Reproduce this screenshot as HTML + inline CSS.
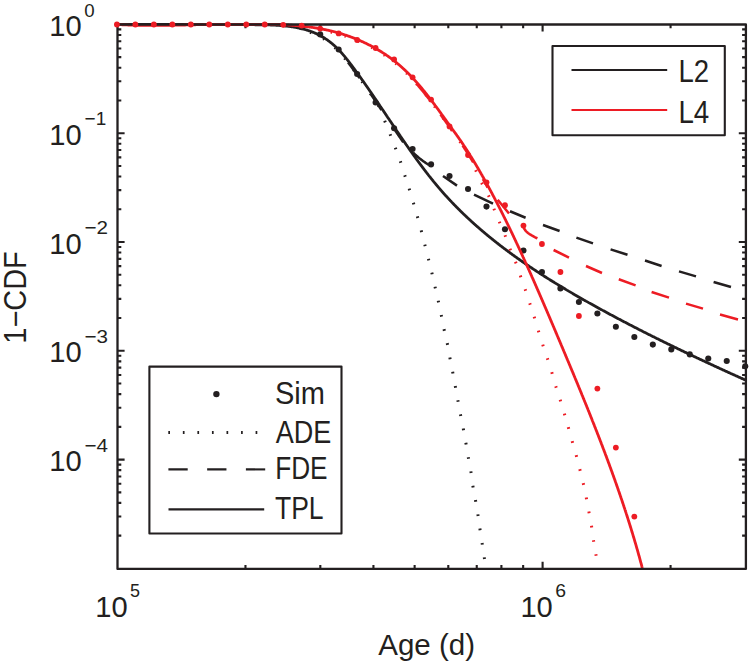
<!DOCTYPE html>
<html lang="en">
<head>
<meta charset="utf-8">
<title>1-CDF vs Age</title>
<style>
html,body{margin:0;padding:0;background:#fff;}
body{width:750px;height:665px;overflow:hidden;}
svg{display:block;}
</style>
</head>
<body>
<svg width="750" height="665" viewBox="0 0 750 665">
<rect width="750" height="665" fill="#fff"/>
<clipPath id="c"><rect x="113.5" y="20.5" width="636.4" height="548.4"/></clipPath>
<g clip-path="url(#c)" fill="none" stroke-linejoin="round">
<path d="M117.5 24.5 L118.01 24.5 L118.51 24.5 L119.02 24.5 L119.52 24.5 L120.02 24.5 L120.53 24.5 L121.03 24.5 L121.54 24.5 L122.04 24.5 L122.55 24.5 L123.05 24.5 L123.56 24.5 L124.06 24.5 L124.56 24.5 L125.07 24.5 L125.57 24.5 L126.07 24.5 L126.58 24.5 L127.08 24.5 L127.58 24.5 L128.09 24.5 L128.59 24.5 L129.09 24.5 L129.6 24.5 L130.1 24.5 L130.6 24.5 L131.11 24.5 L131.61 24.5 L132.11 24.5 L132.61 24.5 L133.12 24.5 L133.62 24.5 L134.12 24.5 L134.62 24.5 L135.13 24.5 L135.63 24.5 L136.13 24.5 L136.63 24.5 L137.13 24.5 L137.64 24.5 L138.14 24.5 L138.64 24.5 L139.14 24.5 L139.64 24.5 L140.14 24.5 L140.65 24.5 L141.15 24.5 L141.65 24.5 L142.15 24.5 L142.65 24.5 L143.15 24.5 L143.65 24.5 L144.15 24.5 L144.66 24.5 L145.16 24.5 L145.66 24.5 L146.16 24.5 L146.66 24.5 L147.16 24.5 L147.66 24.5 L148.16 24.5 L148.66 24.5 L149.16 24.5 L149.66 24.5 L150.16 24.5 L150.66 24.5 L151.16 24.5 L151.66 24.5 L152.16 24.5 L152.66 24.5 L153.16 24.5 L153.66 24.5 L154.16 24.5 L154.66 24.5 L155.16 24.5 L155.66 24.5 L156.16 24.5 L156.66 24.5 L157.16 24.5 L157.66 24.5 L158.16 24.5 L158.66 24.5 L159.16 24.5 L159.66 24.5 L160.16 24.5 L160.66 24.5 L161.16 24.5 L161.65 24.5 L162.15 24.5 L162.65 24.5 L163.15 24.5 L163.65 24.5 L164.15 24.5 L164.65 24.5 L165.15 24.5 L165.65 24.5 L166.15 24.5 L166.64 24.5 L167.14 24.5 L167.64 24.5 L168.14 24.5 L168.64 24.5 L169.14 24.5 L169.64 24.5 L170.14 24.5 L170.63 24.5 L171.13 24.5 L171.63 24.5 L172.13 24.5 L172.63 24.5 L173.13 24.5 L173.62 24.5 L174.12 24.5 L174.62 24.5 L175.12 24.5 L175.62 24.5 L176.12 24.5 L176.61 24.5 L177.11 24.5 L177.61 24.5 L178.11 24.5 L178.61 24.5 L179.1 24.5 L179.6 24.5 L180.1 24.5 L180.6 24.5 L181.1 24.5 L181.59 24.5 L182.09 24.5 L182.59 24.5 L183.09 24.5 L183.59 24.5 L184.08 24.5 L184.58 24.5 L185.08 24.5 L185.58 24.5 L186.08 24.5 L186.57 24.5 L187.07 24.5 L187.57 24.5 L188.07 24.5 L188.57 24.5 L189.06 24.5 L189.56 24.5 L190.06 24.5 L190.56 24.5 L191.05 24.5 L191.55 24.5 L192.05 24.5 L192.55 24.5 L193.05 24.5 L193.54 24.5 L194.04 24.5 L194.54 24.5 L195.04 24.5 L195.53 24.5 L196.03 24.5 L196.53 24.5 L197.03 24.5 L197.53 24.5 L198.02 24.5 L198.52 24.5 L199.02 24.5 L199.52 24.5 L200.01 24.5 L200.51 24.5 L201.01 24.5 L201.51 24.5 L202.01 24.5 L202.5 24.5 L203 24.51 L203.5 24.51 L204 24.51 L204.49 24.51 L204.99 24.52 L205.49 24.52 L205.99 24.52 L206.49 24.52 L206.98 24.53 L207.48 24.53 L207.98 24.53 L208.48 24.53 L208.98 24.54 L209.47 24.54 L209.97 24.54 L210.47 24.54 L210.97 24.55 L211.47 24.55 L211.96 24.55 L212.46 24.55 L212.96 24.56 L213.46 24.56 L213.96 24.56 L214.46 24.56 L214.95 24.57 L215.45 24.57 L215.95 24.57 L216.45 24.57 L216.95 24.58 L217.44 24.58 L217.94 24.58 L218.44 24.58 L218.94 24.59 L219.44 24.59 L219.94 24.59 L220.44 24.59 L220.93 24.59 L221.43 24.6 L221.93 24.6 L222.43 24.6 L222.93 24.6 L223.43 24.61 L223.93 24.61 L224.42 24.61 L224.92 24.61 L225.42 24.62 L225.92 24.62 L226.42 24.62 L226.92 24.62 L227.42 24.63 L227.92 24.63 L228.42 24.63 L228.92 24.63 L229.41 24.63 L229.91 24.64 L230.41 24.64 L230.91 24.64 L231.41 24.64 L231.91 24.65 L232.41 24.65 L232.91 24.65 L233.41 24.65 L233.91 24.65 L234.41 24.66 L234.91 24.66 L235.41 24.66 L235.91 24.66 L236.41 24.66 L236.91 24.67 L237.41 24.67 L237.91 24.67 L238.41 24.67 L238.91 24.67 L239.41 24.68 L239.91 24.68 L240.41 24.68 L240.91 24.68 L241.41 24.68 L241.91 24.68 L242.41 24.69 L242.91 24.69 L243.41 24.69 L243.91 24.69 L244.41 24.69 L244.91 24.69 L245.41 24.7 L245.91 24.7 L246.41 24.7 L246.92 24.7 L247.42 24.7 L247.92 24.7 L248.42 24.71 L248.92 24.71 L249.42 24.71 L249.92 24.71 L250.42 24.71 L250.93 24.71 L251.43 24.71 L251.93 24.71 L252.43 24.72 L252.93 24.72 L253.43 24.72 L253.94 24.72 L254.44 24.72 L254.94 24.73 L255.44 24.73 L255.94 24.73 L256.45 24.73 L256.95 24.74 L257.45 24.74 L257.95 24.74 L258.45 24.75 L258.96 24.75 L259.46 24.75 L259.96 24.76 L260.46 24.76 L260.97 24.77 L261.47 24.78 L261.97 24.78 L262.47 24.79 L262.97 24.8 L263.48 24.8 L263.98 24.81 L264.48 24.82 L264.98 24.83 L265.49 24.84 L265.99 24.85 L266.49 24.87 L266.99 24.88 L267.49 24.89 L268 24.9 L268.5 24.92 L269 24.93 L269.5 24.95 L270 24.97 L270.51 24.98 L271.01 25 L271.51 25.02 L272.01 25.04 L272.51 25.06 L273.02 25.09 L273.52 25.11 L274.02 25.13 L274.52 25.16 L275.02 25.18 L275.52 25.21 L276.03 25.24 L276.53 25.27 L277.03 25.3 L277.53 25.33 L278.03 25.36 L278.53 25.4 L279.03 25.43 L279.53 25.47 L280.03 25.51 L280.54 25.54 L281.04 25.58 L281.54 25.62 L282.04 25.67 L282.54 25.71 L283.04 25.76 L283.54 25.8 L284.04 25.85 L284.54 25.9 L285.04 25.95 L285.54 26 L286.04 26.06 L286.54 26.11 L287.04 26.17 L287.54 26.23 L288.03 26.29 L288.53 26.35 L289.03 26.41 L289.53 26.48 L290.03 26.54 L290.53 26.61 L291.03 26.68 L291.52 26.75 L292.02 26.83 L292.52 26.9 L293.02 26.98 L293.51 27.06 L294.01 27.14 L294.51 27.22 L295 27.31 L295.5 27.39 L295.99 27.48 L296.49 27.57 L296.98 27.67 L297.48 27.76 L297.97 27.86 L298.46 27.96 L298.96 28.06 L299.45 28.17 L299.94 28.27 L300.43 28.38 L300.92 28.49 L301.41 28.61 L301.89 28.72 L302.38 28.84 L302.87 28.97 L303.35 29.09 L303.84 29.22 L304.32 29.35 L304.8 29.48 L305.29 29.61 L305.77 29.75 L306.25 29.89 L306.73 30.04 L307.2 30.18 L307.68 30.33 L308.16 30.49 L308.63 30.64 L309.11 30.8 L309.58 30.96 L310.05 31.13 L310.52 31.3 L310.99 31.47 L311.45 31.64 L311.92 31.82 L312.38 32 L312.85 32.18 L313.31 32.37 L313.77 32.56 L314.23 32.75 L314.69 32.95 L315.14 33.15 L315.6 33.35 L316.05 33.56 L316.5 33.76 L316.95 33.98 L317.4 34.19 L317.85 34.41 L318.3 34.63 L318.74 34.85 L319.18 35.08 L319.62 35.31 L320.06 35.54 L320.5 35.78 L320.94 36.01 L321.37 36.26 L321.8 36.5 L322.23 36.75 L322.66 37 L323.09 37.25 L323.51 37.51 L323.93 37.77 L324.36 38.03 L324.78 38.29 L325.19 38.56 L325.61 38.83 L326.02 39.1 L326.43 39.38 L326.84 39.66 L327.25 39.94 L327.65 40.23 L328.06 40.52 L328.46 40.81 L328.86 41.1 L329.25 41.4 L329.65 41.69 L330.04 42 L330.43 42.3 L330.82 42.61 L331.21 42.92 L331.59 43.23 L331.97 43.55 L332.35 43.86 L332.73 44.18 L333.1 44.51 L333.48 44.83 L333.85 45.16 L334.22 45.49 L334.59 45.82 L334.95 46.16 L335.32 46.5 L335.68 46.84 L336.04 47.18 L336.4 47.52 L336.75 47.87 L337.11 48.22 L337.46 48.57 L337.81 48.92 L338.16 49.27 L338.51 49.63 L338.86 49.99 L339.2 50.35 L339.54 50.71 L339.89 51.08 L340.23 51.44 L340.57 51.81 L340.9 52.18 L341.24 52.55 L341.57 52.92 L341.91 53.29 L342.24 53.67 L342.57 54.05 L342.9 54.43 L343.22 54.81 L343.55 55.19 L343.88 55.57 L344.2 55.95 L344.52 56.34 L344.84 56.72 L345.17 57.11 L345.48 57.5 L345.8 57.89 L346.12 58.28 L346.44 58.67 L346.75 59.07 L347.07 59.46 L347.38 59.86 L347.69 60.25 L348 60.65 L348.31 61.05 L348.62 61.44 L348.93 61.84 L349.24 62.24 L349.55 62.64 L349.86 63.04 L350.16 63.45 L350.47 63.85 L350.77 64.25 L351.08 64.65 L351.38 65.06 L351.68 65.46 L351.99 65.87 L352.29 66.27 L352.59 66.67 L352.89 67.08 L353.19 67.49 L353.49 67.89 L353.79 68.3 L354.09 68.7 L354.39 69.11 L354.69 69.51 L354.98 69.92 L355.28 70.33 L355.58 70.73 L355.88 71.14 L356.17 71.55 L356.47 71.95 L356.76 72.36 L357.06 72.77 L357.35 73.17 L357.65 73.58 L357.94 73.99 L358.24 74.4 L358.53 74.8 L358.83 75.21 L359.12 75.62 L359.41 76.03 L359.7 76.43 L360 76.84 L360.29 77.25 L360.58 77.66 L360.87 78.07 L361.16 78.47 L361.45 78.88 L361.74 79.29 L362.03 79.7 L362.32 80.11 L362.61 80.52 L362.9 80.93 L363.19 81.34 L363.48 81.74 L363.77 82.15 L364.05 82.56 L364.34 82.97 L364.63 83.38 L364.92 83.79 L365.2 84.2 L365.49 84.61 L365.78 85.02 L366.06 85.43 L366.35 85.84 L366.63 86.25 L366.92 86.66 L367.2 87.07 L367.49 87.48 L367.77 87.89 L368.06 88.3 L368.34 88.71 L368.63 89.12 L368.91 89.53 L369.19 89.94 L369.48 90.36 L369.76 90.77 L370.04 91.18 L370.33 91.59 L370.61 92 L370.89 92.41 L371.17 92.82 L371.46 93.23 L371.74 93.64 L372.02 94.06 L372.3 94.47 L372.58 94.88 L372.86 95.29 L373.14 95.7 L373.43 96.11 L373.71 96.53 L373.99 96.94 L374.27 97.35 L374.55 97.76 L374.83 98.17 L375.11 98.59 L375.39 99 L375.67 99.41 L375.95 99.82 L376.23 100.24 L376.51 100.65 L376.78 101.06 L377.06 101.47 L377.34 101.89 L377.62 102.3 L377.9 102.71 L378.18 103.12 L378.46 103.54 L378.74 103.95 L379.01 104.36 L379.29 104.77 L379.57 105.19 L379.85 105.6 L380.13 106.01 L380.4 106.43 L380.68 106.84 L380.96 107.25 L381.24 107.67 L381.52 108.08 L381.79 108.49 L382.07 108.91 L382.35 109.32 L382.63 109.73 L382.9 110.15 L383.18 110.56 L383.46 110.97 L383.73 111.39 L384.01 111.8 L384.29 112.21 L384.57 112.63 L384.84 113.04 L385.12 113.45 L385.4 113.87 L385.68 114.28 L385.95 114.69 L386.23 115.11 L386.51 115.52 L386.78 115.94 L387.06 116.35 L387.34 116.76 L387.61 117.18 L387.89 117.59 L388.17 118.01 L388.45 118.42 L388.72 118.83 L389 119.25 L389.28 119.66 L389.56 120.07 L389.83 120.49 L390.11 120.9 L390.39 121.32 L390.67 121.73 L390.94 122.14 L391.22 122.56 L391.5 122.97 L391.78 123.39 L392.05 123.8 L392.33 124.21 L392.61 124.63 L392.89 125.04 L393.17 125.46 L393.44 125.87 L393.72 126.28 L394 126.7 L394.28 127.11 L394.56 127.53 L394.84 127.94 L395.11 128.36 L395.39 128.77 L395.67 129.18 L395.95 129.6 L396.23 130.01 L396.51 130.43 L396.79 130.84 L397.07 131.25 L397.35 131.67 L397.63 132.08 L397.91 132.5 L398.19 132.91 L398.47 133.32 L398.75 133.74 L399.03 134.15 L399.31 134.56 L399.59 134.98 L399.87 135.39 L400.15 135.81 L400.44 136.22 L400.72 136.63 L401 137.05 L401.28 137.46 L401.56 137.87 L401.85 138.29 L402.13 138.7 L402.41 139.12 L402.69 139.53 L402.98 139.94 L403.26 140.36 L403.54 140.77 L403.83 141.18 L404.11 141.6 L404.39 142.01 L404.68 142.42 L404.96 142.83 L405.25 143.25 L405.53 143.66 L405.82 144.07 L406.1 144.49 L406.39 144.9 L406.67 145.31 L406.96 145.72 L407.25 146.13 L407.53 146.55 L407.82 146.96 L408.11 147.37 L408.39 147.78 L408.68 148.19 L408.97 148.6 L409.26 149.02 L409.54 149.43 L409.83 149.84 L410.12 150.25 L410.41 150.66 L410.7 151.07 L410.99 151.48 L411.28 151.89 L411.57 152.3 L411.86 152.71 L412.15 153.12 L412.44 153.53 L412.73 153.94 L413.02 154.35 L413.31 154.76 L413.6 155.17 L413.9 155.57 L414.19 155.98 L414.48 156.39 L414.77 156.8 L415.07 157.21 L415.36 157.61 L415.65 158.02 L415.95 158.43 L416.24 158.84 L416.54 159.24 L416.83 159.65 L417.13 160.05 L417.42 160.46 L417.72 160.87 L418.02 161.27 L418.31 161.68 L418.61 162.08 L418.91 162.49 L419.21 162.89 L419.5 163.29 L419.8 163.7 L420.1 164.1 L420.4 164.51 L420.7 164.91 L421 165.31 L421.3 165.71 L421.6 166.12 L421.9 166.52 L422.2 166.92 L422.5 167.32 L422.81 167.72 L423.11 168.12 L423.41 168.52 L423.71 168.92 L424.02 169.32 L424.32 169.72 L424.63 170.12 L424.93 170.52 L425.23 170.92 L425.54 171.32 L425.85 171.71 L426.15 172.11 L426.46 172.51 L426.76 172.91 L427.07 173.3 L427.38 173.7 L427.69 174.09 L428 174.49 L428.31 174.88 L428.61 175.28 L428.92 175.67 L429.23 176.07 L429.55 176.46 L429.86 176.85 L430.17 177.24 L430.48 177.64 L430.79 178.03 L431.1 178.42 L431.42 178.81 L431.73 179.2 L432.04 179.59 L432.36 179.98 L432.67 180.37 L432.99 180.76 L433.31 181.15 L433.62 181.54 L433.94 181.92 L434.26 182.31 L434.57 182.7 L434.89 183.08 L435.21 183.47 L435.53 183.86 L435.85 184.24 L436.17 184.62 L436.49 185.01 L436.81 185.39 L437.13 185.78 L437.45 186.16 L437.78 186.54 L438.1 186.92 L438.42 187.3 L438.75 187.68 L439.07 188.06 L439.39 188.44 L439.72 188.82 L440.05 189.2 L440.37 189.58 L440.7 189.96 L441.03 190.33 L441.35 190.71 L441.68 191.09 L442.01 191.46 L442.34 191.84 L442.67 192.21 L443 192.59 L443.33 192.96 L443.66 193.33 L443.99 193.7 L444.33 194.08 L444.66 194.45 L444.99 194.82 L445.33 195.19 L445.66 195.56 L446 195.93 L446.33 196.3 L446.67 196.67 L447 197.03 L447.34 197.4 L447.68 197.77 L448.02 198.14 L448.35 198.5 L448.69 198.87 L449.03 199.23 L449.37 199.6 L449.71 199.96 L450.05 200.32 L450.39 200.69 L450.74 201.05 L451.08 201.41 L451.42 201.77 L451.76 202.14 L452.11 202.5 L452.45 202.86 L452.8 203.22 L453.14 203.57 L453.49 203.93 L453.83 204.29 L454.18 204.65 L454.52 205.01 L454.87 205.36 L455.22 205.72 L455.57 206.08 L455.92 206.43 L456.27 206.79 L456.62 207.14 L456.97 207.49 L457.32 207.85 L457.67 208.2 L458.02 208.55 L458.37 208.91 L458.72 209.26 L459.07 209.61 L459.43 209.96 L459.78 210.31 L460.14 210.66 L460.49 211.01 L460.84 211.36 L461.2 211.7 L461.56 212.05 L461.91 212.4 L462.27 212.75 L462.63 213.09 L462.98 213.44 L463.34 213.78 L463.7 214.13 L464.06 214.47 L464.42 214.82 L464.78 215.16 L465.14 215.51 L465.5 215.85 L465.86 216.19 L466.22 216.53 L466.58 216.87 L466.95 217.22 L467.31 217.56 L467.67 217.9 L468.04 218.24 L468.4 218.58 L468.76 218.91 L469.13 219.25 L469.49 219.59 L469.86 219.93 L470.23 220.26 L470.59 220.6 L470.96 220.94 L471.33 221.27 L471.69 221.61 L472.06 221.94 L472.43 222.28 L472.8 222.61 L473.17 222.94 L473.54 223.28 L473.91 223.61 L474.28 223.94 L474.65 224.27 L475.02 224.61 L475.39 224.94 L475.76 225.27 L476.14 225.6 L476.51 225.93 L476.88 226.26 L477.26 226.59 L477.63 226.91 L478.01 227.24 L478.38 227.57 L478.76 227.9 L479.13 228.22 L479.51 228.55 L479.88 228.87 L480.26 229.2 L480.64 229.53 L481.02 229.85 L481.39 230.17 L481.77 230.5 L482.15 230.82 L482.53 231.14 L482.91 231.47 L483.29 231.79 L483.67 232.11 L484.05 232.43 L484.43 232.75 L484.81 233.07 L485.19 233.39 L485.57 233.71 L485.96 234.03 L486.34 234.35 L486.72 234.67 L487.11 234.99 L487.49 235.3 L487.87 235.62 L488.26 235.94 L488.64 236.25 L489.03 236.57 L489.41 236.89 L489.8 237.2 L490.19 237.52 L490.57 237.83 L490.96 238.15 L491.35 238.46 L491.74 238.77 L492.12 239.08 L492.51 239.4 L492.9 239.71 L493.29 240.02 L493.68 240.33 L494.07 240.64 L494.46 240.95 L494.85 241.26 L495.24 241.57 L495.63 241.88 L496.02 242.19 L496.42 242.5 L496.81 242.81 L497.2 243.12 L497.59 243.42 L497.99 243.73 L498.38 244.04 L498.77 244.34 L499.17 244.65 L499.56 244.96 L499.96 245.26 L500.35 245.57 L500.75 245.87 L501.14 246.17 L501.54 246.48 L501.93 246.78 L502.33 247.08 L502.73 247.39 L503.13 247.69 L503.52 247.99 L503.92 248.29 L504.32 248.59 L504.72 248.89 L505.12 249.19 L505.52 249.49 L505.92 249.79 L506.32 250.09 L506.72 250.39 L507.12 250.69 L507.52 250.99 L507.92 251.29 L508.32 251.58 L508.72 251.88 L509.12 252.18 L509.52 252.47 L509.93 252.77 L510.33 253.07 L510.73 253.36 L511.14 253.66 L511.54 253.95 L511.94 254.25 L512.35 254.54 L512.75 254.83 L513.16 255.13 L513.56 255.42 L513.97 255.71 L514.37 256 L514.78 256.3 L515.19 256.59 L515.59 256.88 L516 257.17 L516.41 257.46 L516.81 257.75 L517.22 258.04 L517.63 258.33 L518.04 258.62 L518.45 258.91 L518.85 259.2 L519.26 259.49 L519.67 259.77 L520.08 260.06 L520.49 260.35 L520.9 260.63 L521.31 260.92 L521.72 261.21 L522.13 261.49 L522.54 261.78 L522.96 262.06 L523.37 262.35 L523.78 262.63 L524.19 262.92 L524.6 263.2 L525.02 263.49 L525.43 263.77 L525.84 264.05 L526.26 264.33 L526.67 264.62 L527.08 264.9 L527.5 265.18 L527.91 265.46 L528.33 265.74 L528.74 266.02 L529.16 266.3 L529.57 266.58 L529.99 266.86 L530.4 267.14 L530.82 267.42 L531.23 267.7 L531.65 267.98 L532.07 268.26 L532.48 268.54 L532.9 268.81 L533.32 269.09 L533.74 269.37 L534.15 269.64 L534.57 269.92 L534.99 270.2 L535.41 270.47 L535.83 270.75 L536.25 271.02 L536.67 271.3 L537.09 271.57 L537.51 271.85 L537.93 272.12 L538.35 272.4 L538.77 272.67 L539.19 272.94 L539.61 273.21 L540.03 273.49 L540.45 273.76 L540.87 274.03 L541.29 274.3 L541.71 274.57 L542.14 274.85 L542.56 275.12 L542.98 275.39 L543.4 275.66 L543.83 275.93 L544.25 276.2 L544.67 276.47 L545.1 276.74 L545.52 277 L545.94 277.27 L546.37 277.54 L546.79 277.81 L547.22 278.08 L547.64 278.34 L548.06 278.61 L548.49 278.88 L548.91 279.15 L549.34 279.41 L549.77 279.68 L550.19 279.94 L550.62 280.21 L551.04 280.47 L551.47 280.74 L551.9 281 L552.32 281.27 L552.75 281.53 L553.18 281.8 L553.6 282.06 L554.03 282.32 L554.46 282.59 L554.89 282.85 L555.31 283.11 L555.74 283.38 L556.17 283.64 L556.6 283.9 L557.03 284.16 L557.46 284.42 L557.88 284.68 L558.31 284.94 L558.74 285.2 L559.17 285.46 L559.6 285.72 L560.03 285.98 L560.46 286.24 L560.89 286.5 L561.32 286.76 L561.75 287.02 L562.18 287.28 L562.61 287.54 L563.04 287.8 L563.47 288.05 L563.9 288.31 L564.33 288.57 L564.77 288.83 L565.2 289.08 L565.63 289.34 L566.06 289.6 L566.49 289.85 L566.92 290.11 L567.36 290.36 L567.79 290.62 L568.22 290.87 L568.65 291.13 L569.09 291.38 L569.52 291.64 L569.95 291.89 L570.39 292.15 L570.82 292.4 L571.25 292.65 L571.69 292.91 L572.12 293.16 L572.55 293.41 L572.99 293.67 L573.42 293.92 L573.85 294.17 L574.29 294.42 L574.72 294.68 L575.16 294.93 L575.59 295.18 L576.03 295.43 L576.46 295.68 L576.9 295.93 L577.33 296.18 L577.77 296.43 L578.2 296.68 L578.64 296.93 L579.07 297.18 L579.51 297.43 L579.94 297.68 L580.38 297.93 L580.81 298.18 L581.25 298.43 L581.69 298.67 L582.12 298.92 L582.56 299.17 L583 299.42 L583.43 299.67 L583.87 299.91 L584.3 300.16 L584.74 300.41 L585.18 300.65 L585.62 300.9 L586.05 301.15 L586.49 301.39 L586.93 301.64 L587.36 301.88 L587.8 302.13 L588.24 302.38 L588.68 302.62 L589.11 302.87 L589.55 303.11 L589.99 303.35 L590.43 303.6 L590.86 303.84 L591.3 304.09 L591.74 304.33 L592.18 304.57 L592.62 304.82 L593.06 305.06 L593.49 305.3 L593.93 305.55 L594.37 305.79 L594.81 306.03 L595.25 306.27 L595.69 306.52 L596.12 306.76 L596.56 307 L597 307.24 L597.44 307.48 L597.88 307.72 L598.32 307.97 L598.76 308.21 L599.2 308.45 L599.64 308.69 L600.08 308.93 L600.52 309.17 L600.95 309.41 L601.39 309.65 L601.83 309.89 L602.27 310.13 L602.71 310.37 L603.15 310.61 L603.59 310.84 L604.03 311.08 L604.47 311.32 L604.91 311.56 L605.35 311.8 L605.79 312.04 L606.23 312.28 L606.67 312.51 L607.11 312.75 L607.55 312.99 L607.99 313.23 L608.43 313.46 L608.87 313.7 L609.31 313.94 L609.75 314.17 L610.19 314.41 L610.63 314.65 L611.07 314.88 L611.51 315.12 L611.95 315.35 L612.4 315.59 L612.84 315.83 L613.28 316.06 L613.72 316.3 L614.16 316.53 L614.6 316.77 L615.04 317 L615.48 317.24 L615.92 317.47 L616.36 317.7 L616.81 317.94 L617.25 318.17 L617.69 318.41 L618.13 318.64 L618.57 318.87 L619.01 319.11 L619.45 319.34 L619.9 319.57 L620.34 319.81 L620.78 320.04 L621.22 320.27 L621.66 320.5 L622.1 320.74 L622.55 320.97 L622.99 321.2 L623.43 321.43 L623.87 321.66 L624.31 321.89 L624.76 322.13 L625.2 322.36 L625.64 322.59 L626.08 322.82 L626.53 323.05 L626.97 323.28 L627.41 323.51 L627.85 323.74 L628.3 323.97 L628.74 324.2 L629.18 324.43 L629.62 324.66 L630.07 324.89 L630.51 325.12 L630.95 325.35 L631.4 325.58 L631.84 325.81 L632.28 326.04 L632.73 326.27 L633.17 326.49 L633.61 326.72 L634.06 326.95 L634.5 327.18 L634.94 327.41 L635.39 327.63 L635.83 327.86 L636.27 328.09 L636.72 328.32 L637.16 328.54 L637.6 328.77 L638.05 329 L638.49 329.23 L638.94 329.45 L639.38 329.68 L639.82 329.91 L640.27 330.13 L640.71 330.36 L641.16 330.58 L641.6 330.81 L642.05 331.04 L642.49 331.26 L642.93 331.49 L643.38 331.71 L643.82 331.94 L644.27 332.16 L644.71 332.39 L645.16 332.61 L645.6 332.84 L646.05 333.06 L646.49 333.29 L646.94 333.51 L647.38 333.74 L647.83 333.96 L648.27 334.18 L648.72 334.41 L649.16 334.63 L649.61 334.86 L650.05 335.08 L650.5 335.3 L650.94 335.53 L651.39 335.75 L651.84 335.97 L652.28 336.19 L652.73 336.42 L653.17 336.64 L653.62 336.86 L654.07 337.08 L654.51 337.31 L654.96 337.53 L655.4 337.75 L655.85 337.97 L656.3 338.2 L656.74 338.42 L657.19 338.64 L657.63 338.86 L658.08 339.08 L658.53 339.3 L658.97 339.52 L659.42 339.74 L659.87 339.96 L660.31 340.19 L660.76 340.41 L661.21 340.63 L661.65 340.85 L662.1 341.07 L662.55 341.29 L663 341.51 L663.44 341.73 L663.89 341.95 L664.34 342.17 L664.78 342.39 L665.23 342.61 L665.68 342.83 L666.13 343.04 L666.57 343.26 L667.02 343.48 L667.47 343.7 L667.92 343.92 L668.37 344.14 L668.81 344.36 L669.26 344.58 L669.71 344.79 L670.16 345.01 L670.61 345.23 L671.05 345.45 L671.5 345.67 L671.95 345.88 L672.4 346.1 L672.85 346.32 L673.3 346.54 L673.74 346.75 L674.19 346.97 L674.64 347.19 L675.09 347.41 L675.54 347.62 L675.99 347.84 L676.44 348.06 L676.89 348.27 L677.33 348.49 L677.78 348.71 L678.23 348.92 L678.68 349.14 L679.13 349.35 L679.58 349.57 L680.03 349.79 L680.48 350 L680.93 350.22 L681.38 350.43 L681.83 350.65 L682.28 350.87 L682.73 351.08 L683.18 351.3 L683.63 351.51 L684.08 351.73 L684.53 351.94 L684.98 352.16 L685.43 352.37 L685.88 352.59 L686.33 352.8 L686.78 353.01 L687.23 353.23 L687.68 353.44 L688.13 353.66 L688.58 353.87 L689.03 354.09 L689.48 354.3 L689.93 354.51 L690.38 354.73 L690.83 354.94 L691.29 355.15 L691.74 355.37 L692.19 355.58 L692.64 355.79 L693.09 356.01 L693.54 356.22 L693.99 356.43 L694.44 356.65 L694.9 356.86 L695.35 357.07 L695.8 357.29 L696.25 357.5 L696.7 357.71 L697.15 357.92 L697.61 358.14 L698.06 358.35 L698.51 358.56 L698.96 358.77 L699.41 358.98 L699.87 359.2 L700.32 359.41 L700.77 359.62 L701.22 359.83 L701.68 360.04 L702.13 360.26 L702.58 360.47 L703.03 360.68 L703.49 360.89 L703.94 361.1 L704.39 361.31 L704.84 361.52 L705.3 361.73 L705.75 361.95 L706.2 362.16 L706.66 362.37 L707.11 362.58 L707.56 362.79 L708.02 363 L708.47 363.21 L708.92 363.42 L709.38 363.63 L709.83 363.84 L710.28 364.05 L710.74 364.26 L711.19 364.47 L711.65 364.68 L712.1 364.89 L712.55 365.1 L713.01 365.31 L713.46 365.52 L713.92 365.73 L714.37 365.94 L714.83 366.15 L715.28 366.36 L715.73 366.57 L716.19 366.78 L716.64 366.99 L717.1 367.2 L717.55 367.4 L718.01 367.61 L718.46 367.82 L718.92 368.03 L719.37 368.24 L719.83 368.45 L720.28 368.66 L720.74 368.87 L721.19 369.08 L721.65 369.28 L722.1 369.49 L722.56 369.7 L723.01 369.91 L723.47 370.12 L723.93 370.33 L724.38 370.53 L724.84 370.74 L725.29 370.95 L725.75 371.16 L726.21 371.37 L726.66 371.57 L727.12 371.78 L727.57 371.99 L728.03 372.2 L728.49 372.41 L728.94 372.61 L729.4 372.82 L729.86 373.03 L730.31 373.24 L730.77 373.44 L731.23 373.65 L731.68 373.86 L732.14 374.06 L732.6 374.27 L733.05 374.48 L733.51 374.69 L733.97 374.89 L734.43 375.1 L734.88 375.31 L735.34 375.51 L735.8 375.72 L736.26 375.93 L736.71 376.13 L737.17 376.34 L737.63 376.55 L738.09 376.75 L738.54 376.96 L739 377.17 L739.46 377.37 L739.92 377.58 L740.38 377.79 L740.83 377.99 L741.29 378.2 L741.75 378.4 L742.21 378.61 L742.67 378.82 L743.13 379.02 L743.59 379.23 L744.04 379.44 L744.5 379.64 L744.96 379.85 L745.3 380" stroke="#231f20" stroke-width="2.8"/>
<path d="M348 62.6 L348.29 62.97 L348.6 63.37 L348.9 63.77 L349.21 64.17 L349.51 64.57 L349.82 64.97 L350.12 65.38 L350.42 65.78 L350.72 66.18 L351.02 66.58 L351.33 66.99 L351.63 67.39 L351.93 67.8 L352.23 68.2 L352.52 68.6 L352.82 69.01 L353.12 69.41 L353.42 69.82 L353.72 70.22 L354.02 70.63 L354.31 71.04 L354.61 71.44 L354.91 71.85 L355.2 72.25 L355.5 72.66 L355.79 73.06 L356.09 73.47 L356.38 73.88 L356.68 74.28 L356.97 74.69 L357.26 75.1 L357.56 75.5 L357.85 75.91 L358.14 76.32 L358.44 76.73 L358.73 77.13 L359.02 77.54 L359.31 77.95 L359.45 78.14 M370.61 94.12 L370.75 94.32 L371.03 94.73 L371.31 95.14 L371.59 95.56 L371.87 95.97 L372.15 96.38 L372.43 96.79 L372.71 97.2 L372.99 97.61 L373.27 98.02 L373.55 98.44 L373.83 98.85 L374.11 99.26 L374.39 99.67 L374.67 100.08 L374.95 100.5 L375.23 100.91 L375.51 101.32 L375.79 101.73 L376.07 102.14 L376.35 102.56 L376.63 102.97 L376.91 103.38 L377.18 103.79 L377.46 104.21 L377.74 104.62 L378.02 105.03 L378.3 105.44 L378.58 105.86 L378.85 106.27 L379.13 106.68 L379.41 107.1 L379.69 107.51 L379.96 107.92 L380.24 108.34 L380.52 108.75 L380.8 109.16 L381.07 109.57 L381.35 109.99 L381.43 110.1 M392.29 126.3 L392.45 126.54 L392.73 126.95 L393 127.37 L393.28 127.78 L393.56 128.2 L393.84 128.61 L394.12 129.03 L394.4 129.44 L394.68 129.85 L394.96 130.27 L395.24 130.68 L395.52 131.1 L395.8 131.51 L396.08 131.92 L396.35 132.34 L396.63 132.75 L396.92 133.17 L397.2 133.58 L397.48 134 L397.76 134.41 L398.04 134.82 L398.32 135.24 L398.6 135.65 L398.88 136.07 L399.16 136.48 L399.44 136.89 L399.73 137.31 L400.01 137.72 L400.29 138.14 L400.57 138.55 L400.85 138.96 L401.14 139.38 L401.42 139.79 L401.7 140.21 L401.99 140.62 L402.27 141.03 L402.55 141.45 L402.84 141.86 L403.12 142.28 L403.12 142.28" stroke="#231f20" stroke-width="2.3"/>
<path d="M310.06 32.51 L310.08 32.52 L310.54 32.69 L311 32.86 L311.37 33 M323.1 38.78 L323.25 38.87 L323.67 39.13 L324.08 39.39 L324.29 39.53 M334.59 47.59 L334.79 47.78 L335.14 48.12 L335.49 48.46 L335.6 48.56 M344.41 58.24 L344.48 58.33 L344.8 58.71 L345.11 59.1 L345.3 59.33 M353.24 69.74 L353.34 69.88 L353.64 70.28 L353.94 70.69 L354.07 70.87 M361.72 81.51 L361.84 81.68 L362.13 82.08 L362.41 82.49 L362.53 82.65 M370 93.41 L370.1 93.56 L370.38 93.97 L370.67 94.38 L370.79 94.56 M378.15 105.4 L378.21 105.5 L378.49 105.91 L378.77 106.33 L378.93 106.56" stroke="#231f20" stroke-width="2.6"/>
<path d="M384.68 120.81 L385.32 122.39 M390.09 134.21 L390.71 135.79 M395.3 147.7 L395.9 149.3 M400.33 161.2 L400.87 162.8 M404.74 175.19 L405.26 176.81 M409.15 188.59 L409.65 190.21 M413.36 202.78 L413.84 204.42 M417.37 216.38 L417.83 218.02 M421.18 230.38 L421.62 232.02 M424.79 244.58 L425.21 246.22 M428.39 258.78 L428.81 260.42 M431.8 272.57 L432.2 274.23 M435.01 286.77 L435.39 288.43 M438.22 300.77 L438.58 302.43 M441.23 314.97 L441.57 316.63 M444.02 329.17 L444.38 330.83 M447.23 343.17 L447.57 344.83 M449.84 357.56 L450.16 359.24 M452.64 371.76 L452.96 373.44 M455.25 385.96 L455.55 387.64 M457.85 400.16 L458.15 401.84 M460.44 414.36 L460.76 416.04 M463.24 428.56 L463.56 430.24 M465.85 442.76 L466.15 444.44 M468.25 457.16 L468.55 458.84 M470.87 471.36 L471.13 473.04 M472.87 485.76 L473.13 487.44 M475.45 499.96 L475.75 501.64 M477.87 514.36 L478.13 516.04 M479.88 528.56 L480.12 530.24 M482.07 542.96 L482.33 544.64 M484.27 557.36 L484.53 559.04" stroke="#231f20" stroke-width="3"/>
<path d="M413 152.5 L413.72 153.2 L414.45 153.9 L415.18 154.58 L415.92 155.26 L416.67 155.92 L417.42 156.58 L418.18 157.23 L418.95 157.87 L419.72 158.5 L420.51 159.11 L421.29 159.72 L422.09 160.33 L422.89 160.92 L423.7 161.5 L424.52 162.08 L425.34 162.65 L426.17 163.2 L427.01 163.75 L427.86 164.29 L428.71 164.82 L429 165 M443 176 L457 185.6 M474 194.6 L493 203.6 M510 211.3 L525.6 217.8 M543 225 L559.6 231 M576.4 237.6 L593 243.4 M610.6 249.4 L627.5 254.8 M645 260.5 L661.6 266 M679 271.4 L696 276.4 M713.6 282 L731 287" stroke="#231f20" stroke-width="2.55"/>
<g fill="#231f20" stroke="none">
<circle cx="301.7" cy="27.2" r="3.05"/>
<circle cx="320.18" cy="34.4" r="3.05"/>
<circle cx="338.66" cy="49.5" r="3.05"/>
<circle cx="357.14" cy="74" r="3.05"/>
<circle cx="375.62" cy="102.5" r="3.05"/>
<circle cx="394.1" cy="128.3" r="3.05"/>
<circle cx="412.58" cy="149" r="3.05"/>
<circle cx="431.06" cy="164.4" r="3.05"/>
<circle cx="449.54" cy="176" r="3.05"/>
<circle cx="468.02" cy="189" r="3.05"/>
<circle cx="486.5" cy="206.6" r="3.05"/>
<circle cx="504.98" cy="229.2" r="3.05"/>
<circle cx="523.46" cy="250.5" r="3.05"/>
<circle cx="541.94" cy="272" r="3.05"/>
<circle cx="560.42" cy="288.4" r="3.05"/>
<circle cx="578.9" cy="302" r="3.05"/>
<circle cx="597.38" cy="313.5" r="3.05"/>
<circle cx="615.86" cy="326.8" r="3.05"/>
<circle cx="634.34" cy="337" r="3.05"/>
<circle cx="652.82" cy="344.6" r="3.05"/>
<circle cx="671.3" cy="349.4" r="3.05"/>
<circle cx="689.78" cy="354.4" r="3.05"/>
<circle cx="708.26" cy="358.5" r="3.05"/>
<circle cx="726.74" cy="361" r="3.05"/>
<circle cx="745.22" cy="366.3" r="3.05"/>
</g>
<path d="M117.5 24.5 L118 24.53 L118.49 24.56 L118.99 24.58 L119.48 24.61 L119.98 24.64 L120.48 24.66 L120.97 24.69 L121.47 24.71 L121.97 24.74 L122.46 24.76 L122.96 24.78 L123.46 24.81 L123.95 24.83 L124.45 24.85 L124.95 24.87 L125.44 24.89 L125.94 24.91 L126.44 24.93 L126.94 24.95 L127.43 24.97 L127.93 24.99 L128.43 25.01 L128.93 25.03 L129.42 25.05 L129.92 25.06 L130.42 25.08 L130.92 25.1 L131.41 25.11 L131.91 25.13 L132.41 25.14 L132.91 25.16 L133.4 25.17 L133.9 25.18 L134.4 25.2 L134.9 25.21 L135.4 25.22 L135.9 25.24 L136.39 25.25 L136.89 25.26 L137.39 25.27 L137.89 25.28 L138.39 25.29 L138.89 25.3 L139.38 25.31 L139.88 25.32 L140.38 25.33 L140.88 25.34 L141.38 25.34 L141.88 25.35 L142.38 25.36 L142.88 25.37 L143.37 25.37 L143.87 25.38 L144.37 25.38 L144.87 25.39 L145.37 25.39 L145.87 25.4 L146.37 25.4 L146.87 25.41 L147.37 25.41 L147.87 25.42 L148.37 25.42 L148.87 25.42 L149.37 25.42 L149.87 25.43 L150.37 25.43 L150.87 25.43 L151.36 25.43 L151.86 25.43 L152.36 25.43 L152.86 25.43 L153.36 25.43 L153.86 25.43 L154.36 25.43 L154.86 25.43 L155.36 25.43 L155.86 25.43 L156.36 25.43 L156.86 25.43 L157.36 25.43 L157.86 25.42 L158.36 25.42 L158.87 25.42 L159.37 25.42 L159.87 25.41 L160.37 25.41 L160.87 25.4 L161.37 25.4 L161.87 25.4 L162.37 25.39 L162.87 25.39 L163.37 25.38 L163.87 25.38 L164.37 25.37 L164.87 25.37 L165.37 25.36 L165.87 25.35 L166.37 25.35 L166.87 25.34 L167.38 25.33 L167.88 25.33 L168.38 25.32 L168.88 25.31 L169.38 25.31 L169.88 25.3 L170.38 25.29 L170.88 25.28 L171.38 25.27 L171.88 25.27 L172.39 25.26 L172.89 25.25 L173.39 25.24 L173.89 25.23 L174.39 25.22 L174.89 25.21 L175.39 25.2 L175.89 25.19 L176.39 25.18 L176.9 25.17 L177.4 25.16 L177.9 25.15 L178.4 25.14 L178.9 25.13 L179.4 25.12 L179.9 25.11 L180.41 25.1 L180.91 25.09 L181.41 25.08 L181.91 25.07 L182.41 25.06 L182.91 25.04 L183.42 25.03 L183.92 25.02 L184.42 25.01 L184.92 25 L185.42 24.98 L185.92 24.97 L186.43 24.96 L186.93 24.95 L187.43 24.94 L187.93 24.92 L188.43 24.91 L188.93 24.9 L189.44 24.89 L189.94 24.87 L190.44 24.86 L190.94 24.85 L191.44 24.83 L191.94 24.82 L192.45 24.81 L192.95 24.8 L193.45 24.78 L193.95 24.77 L194.45 24.76 L194.96 24.74 L195.46 24.73 L195.96 24.72 L196.46 24.7 L196.96 24.69 L197.47 24.68 L197.97 24.66 L198.47 24.65 L198.97 24.64 L199.47 24.62 L199.97 24.61 L200.48 24.6 L200.98 24.58 L201.48 24.57 L201.98 24.56 L202.48 24.54 L202.99 24.53 L203.49 24.52 L203.99 24.5 L204.49 24.5 L204.99 24.5 L205.5 24.5 L206 24.5 L206.5 24.5 L207 24.5 L207.5 24.5 L208.01 24.5 L208.51 24.5 L209.01 24.5 L209.51 24.5 L210.01 24.5 L210.52 24.5 L211.02 24.5 L211.52 24.5 L212.02 24.5 L212.52 24.5 L213.03 24.5 L213.53 24.5 L214.03 24.5 L214.53 24.5 L215.03 24.5 L215.53 24.5 L216.04 24.5 L216.54 24.5 L217.04 24.5 L217.54 24.5 L218.04 24.5 L218.55 24.5 L219.05 24.5 L219.55 24.5 L220.05 24.5 L220.55 24.5 L221.05 24.5 L221.56 24.5 L222.06 24.5 L222.56 24.5 L223.06 24.5 L223.56 24.5 L224.07 24.5 L224.57 24.5 L225.07 24.5 L225.57 24.5 L226.07 24.5 L226.57 24.5 L227.07 24.5 L227.58 24.5 L228.08 24.5 L228.58 24.5 L229.08 24.5 L229.58 24.5 L230.08 24.5 L230.59 24.5 L231.09 24.5 L231.59 24.5 L232.09 24.5 L232.59 24.5 L233.09 24.5 L233.59 24.5 L234.1 24.5 L234.6 24.5 L235.1 24.5 L235.6 24.5 L236.1 24.5 L236.6 24.5 L237.1 24.5 L237.6 24.5 L238.1 24.5 L238.61 24.5 L239.11 24.5 L239.61 24.5 L240.11 24.5 L240.61 24.5 L241.11 24.5 L241.61 24.5 L242.11 24.5 L242.61 24.5 L243.11 24.5 L243.62 24.5 L244.12 24.5 L244.62 24.5 L245.12 24.5 L245.62 24.5 L246.12 24.5 L246.62 24.5 L247.12 24.5 L247.62 24.5 L248.12 24.5 L248.62 24.5 L249.12 24.5 L249.62 24.5 L250.12 24.5 L250.62 24.5 L251.12 24.5 L251.62 24.5 L252.12 24.5 L252.62 24.5 L253.13 24.5 L253.63 24.5 L254.13 24.5 L254.63 24.5 L255.13 24.5 L255.63 24.5 L256.13 24.5 L256.63 24.5 L257.13 24.5 L257.63 24.5 L258.12 24.5 L258.62 24.5 L259.12 24.5 L259.62 24.5 L260.12 24.5 L260.62 24.5 L261.12 24.5 L261.62 24.5 L262.12 24.5 L262.62 24.5 L263.12 24.5 L263.62 24.5 L264.12 24.5 L264.62 24.5 L265.12 24.5 L265.62 24.5 L266.12 24.5 L266.61 24.5 L267.11 24.5 L267.61 24.5 L268.11 24.5 L268.61 24.5 L269.11 24.5 L269.61 24.5 L270.11 24.5 L270.61 24.5 L271.1 24.5 L271.6 24.5 L272.1 24.5 L272.6 24.5 L273.1 24.5 L273.6 24.5 L274.09 24.5 L274.59 24.5 L275.09 24.5 L275.59 24.5 L276.09 24.5 L276.59 24.5 L277.08 24.5 L277.58 24.5 L278.08 24.5 L278.58 24.5 L279.07 24.5 L279.57 24.5 L280.07 24.5 L280.57 24.53 L281.07 24.55 L281.56 24.58 L282.06 24.6 L282.56 24.63 L283.05 24.66 L283.55 24.69 L284.05 24.72 L284.55 24.75 L285.04 24.78 L285.54 24.81 L286.04 24.84 L286.53 24.87 L287.03 24.9 L287.53 24.93 L288.02 24.97 L288.52 25 L289.02 25.03 L289.51 25.07 L290.01 25.1 L290.51 25.14 L291 25.17 L291.5 25.21 L291.99 25.25 L292.49 25.29 L292.99 25.32 L293.48 25.36 L293.98 25.4 L294.47 25.44 L294.97 25.48 L295.47 25.53 L295.96 25.57 L296.46 25.61 L296.95 25.65 L297.45 25.7 L297.94 25.74 L298.44 25.79 L298.93 25.84 L299.43 25.88 L299.92 25.93 L300.42 25.98 L300.91 26.03 L301.41 26.08 L301.9 26.13 L302.39 26.18 L302.89 26.23 L303.38 26.29 L303.88 26.34 L304.37 26.4 L304.86 26.45 L305.36 26.51 L305.85 26.57 L306.35 26.63 L306.84 26.68 L307.33 26.75 L307.83 26.81 L308.32 26.87 L308.81 26.93 L309.3 27 L309.8 27.06 L310.29 27.13 L310.78 27.19 L311.27 27.26 L311.77 27.33 L312.26 27.4 L312.75 27.47 L313.24 27.54 L313.73 27.62 L314.23 27.69 L314.72 27.77 L315.21 27.84 L315.7 27.92 L316.19 28 L316.68 28.08 L317.17 28.16 L317.66 28.24 L318.15 28.32 L318.64 28.41 L319.14 28.49 L319.63 28.58 L320.12 28.66 L320.61 28.75 L321.09 28.84 L321.58 28.93 L322.07 29.03 L322.56 29.12 L323.05 29.21 L323.54 29.31 L324.03 29.41 L324.52 29.51 L325.01 29.61 L325.5 29.71 L325.98 29.81 L326.47 29.91 L326.96 30.02 L327.45 30.12 L327.93 30.23 L328.42 30.34 L328.91 30.45 L329.4 30.56 L329.88 30.68 L330.37 30.79 L330.86 30.91 L331.34 31.02 L331.83 31.14 L332.31 31.26 L332.8 31.39 L333.28 31.51 L333.77 31.63 L334.25 31.76 L334.74 31.89 L335.22 32.01 L335.71 32.14 L336.19 32.28 L336.68 32.41 L337.16 32.54 L337.64 32.68 L338.13 32.81 L338.61 32.95 L339.09 33.09 L339.57 33.23 L340.05 33.38 L340.54 33.52 L341.02 33.66 L341.5 33.81 L341.98 33.96 L342.46 34.11 L342.94 34.26 L343.42 34.41 L343.9 34.56 L344.38 34.72 L344.85 34.88 L345.33 35.03 L345.81 35.19 L346.29 35.35 L346.76 35.51 L347.24 35.68 L347.71 35.84 L348.19 36.01 L348.66 36.17 L349.14 36.34 L349.61 36.51 L350.09 36.68 L350.56 36.86 L351.03 37.03 L351.5 37.21 L351.98 37.38 L352.45 37.56 L352.92 37.74 L353.39 37.92 L353.86 38.1 L354.33 38.29 L354.8 38.47 L355.26 38.66 L355.73 38.85 L356.2 39.04 L356.66 39.23 L357.13 39.42 L357.6 39.61 L358.06 39.81 L358.53 40 L358.99 40.2 L359.45 40.4 L359.91 40.6 L360.38 40.8 L360.84 41 L361.3 41.21 L361.76 41.41 L362.22 41.62 L362.68 41.83 L363.13 42.04 L363.59 42.25 L364.05 42.46 L364.5 42.67 L364.96 42.89 L365.41 43.1 L365.87 43.32 L366.32 43.54 L366.77 43.76 L367.22 43.98 L367.68 44.2 L368.13 44.43 L368.57 44.65 L369.02 44.88 L369.47 45.11 L369.92 45.34 L370.37 45.57 L370.81 45.8 L371.26 46.04 L371.7 46.27 L372.14 46.51 L372.59 46.75 L373.03 46.99 L373.47 47.23 L373.91 47.47 L374.35 47.71 L374.79 47.96 L375.23 48.2 L375.66 48.45 L376.1 48.7 L376.53 48.95 L376.97 49.2 L377.4 49.45 L377.83 49.71 L378.27 49.96 L378.7 50.22 L379.13 50.48 L379.55 50.73 L379.98 50.99 L380.41 51.26 L380.84 51.52 L381.26 51.78 L381.69 52.05 L382.11 52.32 L382.53 52.59 L382.95 52.86 L383.37 53.13 L383.79 53.4 L384.21 53.67 L384.63 53.95 L385.05 54.23 L385.46 54.5 L385.87 54.78 L386.29 55.06 L386.7 55.34 L387.11 55.63 L387.52 55.91 L387.93 56.2 L388.34 56.49 L388.75 56.77 L389.15 57.06 L389.56 57.35 L389.96 57.65 L390.36 57.94 L390.77 58.24 L391.17 58.53 L391.57 58.83 L391.97 59.13 L392.36 59.43 L392.76 59.73 L393.15 60.03 L393.55 60.34 L393.94 60.64 L394.33 60.95 L394.72 61.26 L395.11 61.57 L395.5 61.88 L395.89 62.19 L396.27 62.5 L396.66 62.82 L397.04 63.13 L397.42 63.45 L397.8 63.77 L398.18 64.09 L398.56 64.41 L398.94 64.73 L399.32 65.06 L399.69 65.38 L400.07 65.71 L400.44 66.03 L400.81 66.36 L401.18 66.69 L401.55 67.02 L401.92 67.35 L402.29 67.69 L402.66 68.02 L403.02 68.36 L403.39 68.69 L403.75 69.03 L404.11 69.37 L404.48 69.71 L404.84 70.05 L405.2 70.39 L405.56 70.73 L405.91 71.08 L406.27 71.42 L406.63 71.77 L406.98 72.11 L407.34 72.46 L407.69 72.81 L408.04 73.16 L408.39 73.51 L408.74 73.86 L409.09 74.22 L409.44 74.57 L409.79 74.93 L410.13 75.28 L410.48 75.64 L410.82 76 L411.17 76.36 L411.51 76.72 L411.85 77.08 L412.2 77.44 L412.54 77.8 L412.88 78.16 L413.22 78.53 L413.55 78.89 L413.89 79.26 L414.23 79.62 L414.56 79.99 L414.9 80.36 L415.23 80.73 L415.57 81.1 L415.9 81.47 L416.23 81.84 L416.56 82.21 L416.89 82.59 L417.22 82.96 L417.55 83.34 L417.88 83.71 L418.21 84.09 L418.53 84.46 L418.86 84.84 L419.18 85.22 L419.51 85.6 L419.83 85.98 L420.16 86.36 L420.48 86.74 L420.8 87.12 L421.12 87.5 L421.44 87.89 L421.76 88.27 L422.08 88.65 L422.4 89.04 L422.72 89.42 L423.04 89.81 L423.35 90.2 L423.67 90.58 L423.99 90.97 L424.3 91.36 L424.62 91.75 L424.93 92.14 L425.24 92.53 L425.56 92.92 L425.87 93.31 L426.18 93.7 L426.49 94.1 L426.8 94.49 L427.11 94.88 L427.42 95.27 L427.73 95.67 L428.04 96.06 L428.35 96.46 L428.66 96.85 L428.97 97.25 L429.27 97.65 L429.58 98.04 L429.88 98.44 L430.19 98.84 L430.5 99.24 L430.8 99.63 L431.1 100.03 L431.41 100.43 L431.71 100.83 L432.01 101.23 L432.32 101.63 L432.62 102.03 L432.92 102.43 L433.22 102.83 L433.52 103.23 L433.83 103.64 L434.13 104.04 L434.43 104.44 L434.73 104.84 L435.02 105.25 L435.32 105.65 L435.62 106.05 L435.92 106.46 L436.22 106.86 L436.52 107.26 L436.82 107.67 L437.11 108.07 L437.41 108.48 L437.71 108.88 L438 109.28 L438.3 109.69 L438.6 110.09 L438.89 110.5 L439.19 110.91 L439.48 111.31 L439.78 111.72 L440.07 112.12 L440.37 112.53 L440.66 112.93 L440.96 113.34 L441.25 113.75 L441.55 114.15 L441.84 114.56 L442.13 114.96 L442.43 115.37 L442.72 115.78 L443.01 116.18 L443.31 116.59 L443.6 117 L443.89 117.4 L444.19 117.81 L444.48 118.21 L444.77 118.62 L445.07 119.03 L445.36 119.43 L445.65 119.84 L445.94 120.24 L446.24 120.65 L446.53 121.06 L446.82 121.46 L447.11 121.87 L447.41 122.27 L447.7 122.68 L447.99 123.08 L448.28 123.49 L448.57 123.89 L448.87 124.3 L449.16 124.7 L449.45 125.11 L449.74 125.51 L450.04 125.91 L450.33 126.32 L450.62 126.72 L450.91 127.12 L451.21 127.53 L451.5 127.93 L451.79 128.33 L452.08 128.74 L452.38 129.14 L452.67 129.54 L452.96 129.95 L453.25 130.35 L453.54 130.75 L453.83 131.16 L454.13 131.56 L454.42 131.96 L454.71 132.36 L455 132.77 L455.29 133.17 L455.58 133.58 L455.87 133.98 L456.16 134.38 L456.45 134.79 L456.74 135.19 L457.02 135.6 L457.31 136 L457.6 136.41 L457.89 136.81 L458.17 137.22 L458.46 137.63 L458.74 138.03 L459.03 138.44 L459.31 138.85 L459.6 139.25 L459.88 139.66 L460.17 140.07 L460.45 140.48 L460.73 140.89 L461.01 141.3 L461.29 141.71 L461.57 142.12 L461.85 142.53 L462.13 142.95 L462.41 143.36 L462.69 143.77 L462.96 144.18 L463.24 144.6 L463.52 145.01 L463.79 145.43 L464.07 145.84 L464.34 146.26 L464.62 146.67 L464.89 147.09 L465.17 147.51 L465.44 147.92 L465.71 148.34 L465.98 148.76 L466.25 149.18 L466.52 149.59 L466.8 150.01 L467.06 150.43 L467.33 150.85 L467.6 151.27 L467.87 151.69 L468.14 152.11 L468.41 152.53 L468.67 152.95 L468.94 153.38 L469.21 153.8 L469.47 154.22 L469.74 154.64 L470 155.07 L470.27 155.49 L470.53 155.91 L470.79 156.34 L471.06 156.76 L471.32 157.19 L471.58 157.61 L471.84 158.04 L472.1 158.46 L472.37 158.89 L472.63 159.31 L472.89 159.74 L473.15 160.17 L473.4 160.59 L473.66 161.02 L473.92 161.45 L474.18 161.88 L474.44 162.31 L474.69 162.73 L474.95 163.16 L475.21 163.59 L475.46 164.02 L475.72 164.45 L475.97 164.88 L476.23 165.31 L476.48 165.74 L476.74 166.17 L476.99 166.6 L477.25 167.03 L477.5 167.46 L477.75 167.89 L478 168.33 L478.26 168.76 L478.51 169.19 L478.76 169.62 L479.01 170.05 L479.26 170.49 L479.51 170.92 L479.76 171.35 L480.01 171.78 L480.26 172.22 L480.51 172.65 L480.76 173.08 L481.01 173.52 L481.26 173.95 L481.5 174.39 L481.75 174.82 L482 175.26 L482.25 175.69 L482.49 176.13 L482.74 176.56 L482.99 177 L483.23 177.43 L483.48 177.87 L483.72 178.3 L483.97 178.74 L484.21 179.17 L484.46 179.61 L484.7 180.05 L484.94 180.48 L485.19 180.92 L485.43 181.36 L485.67 181.8 L485.91 182.23 L486.16 182.67 L486.4 183.11 L486.64 183.55 L486.88 183.98 L487.12 184.42 L487.36 184.86 L487.6 185.3 L487.84 185.74 L488.08 186.18 L488.32 186.62 L488.56 187.05 L488.8 187.49 L489.04 187.93 L489.28 188.37 L489.52 188.81 L489.76 189.25 L489.99 189.69 L490.23 190.13 L490.47 190.57 L490.7 191.01 L490.94 191.45 L491.18 191.9 L491.41 192.34 L491.65 192.78 L491.88 193.22 L492.12 193.66 L492.35 194.1 L492.59 194.54 L492.82 194.99 L493.06 195.43 L493.29 195.87 L493.53 196.31 L493.76 196.76 L493.99 197.2 L494.22 197.64 L494.46 198.08 L494.69 198.53 L494.92 198.97 L495.15 199.41 L495.38 199.86 L495.62 200.3 L495.85 200.74 L496.08 201.19 L496.31 201.63 L496.54 202.08 L496.77 202.52 L497 202.96 L497.23 203.41 L497.46 203.85 L497.69 204.3 L497.92 204.74 L498.14 205.19 L498.37 205.63 L498.6 206.08 L498.83 206.52 L499.06 206.97 L499.28 207.42 L499.51 207.86 L499.74 208.31 L499.96 208.75 L500.19 209.2 L500.42 209.65 L500.64 210.09 L500.87 210.54 L501.09 210.99 L501.32 211.43 L501.54 211.88 L501.77 212.33 L501.99 212.77 L502.22 213.22 L502.44 213.67 L502.67 214.12 L502.89 214.56 L503.11 215.01 L503.34 215.46 L503.56 215.91 L503.78 216.36 L504.01 216.8 L504.23 217.25 L504.45 217.7 L504.67 218.15 L504.89 218.6 L505.12 219.05 L505.34 219.49 L505.56 219.94 L505.78 220.39 L506 220.84 L506.22 221.29 L506.44 221.74 L506.66 222.19 L506.88 222.64 L507.1 223.09 L507.32 223.54 L507.54 223.99 L507.76 224.44 L507.98 224.89 L508.2 225.34 L508.42 225.79 L508.63 226.24 L508.85 226.69 L509.07 227.14 L509.29 227.59 L509.51 228.04 L509.72 228.49 L509.94 228.94 L510.16 229.39 L510.37 229.84 L510.59 230.3 L510.81 230.75 L511.02 231.2 L511.24 231.65 L511.46 232.1 L511.67 232.55 L511.89 233 L512.1 233.46 L512.32 233.91 L512.53 234.36 L512.75 234.81 L512.96 235.26 L513.18 235.72 L513.39 236.17 L513.61 236.62 L513.82 237.07 L514.03 237.52 L514.25 237.98 L514.46 238.43 L514.67 238.88 L514.89 239.33 L515.1 239.79 L515.31 240.24 L515.53 240.69 L515.74 241.15 L515.95 241.6 L516.16 242.05 L516.37 242.51 L516.59 242.96 L516.8 243.41 L517.01 243.86 L517.22 244.32 L517.43 244.77 L517.64 245.23 L517.85 245.68 L518.07 246.13 L518.28 246.59 L518.49 247.04 L518.7 247.49 L518.91 247.95 L519.12 248.4 L519.33 248.86 L519.54 249.31 L519.75 249.76 L519.96 250.22 L520.17 250.67 L520.38 251.13 L520.58 251.58 L520.79 252.03 L521 252.49 L521.21 252.94 L521.42 253.4 L521.63 253.85 L521.84 254.31 L522.04 254.76 L522.25 255.22 L522.46 255.67 L522.67 256.13 L522.88 256.58 L523.08 257.04 L523.29 257.49 L523.5 257.95 L523.71 258.4 L523.91 258.86 L524.12 259.31 L524.33 259.77 L524.53 260.22 L524.74 260.68 L524.95 261.13 L525.15 261.59 L525.36 262.04 L525.56 262.5 L525.77 262.95 L525.98 263.41 L526.18 263.86 L526.39 264.32 L526.59 264.78 L526.8 265.23 L527 265.69 L527.21 266.14 L527.41 266.6 L527.62 267.06 L527.82 267.51 L528.03 267.97 L528.23 268.42 L528.44 268.88 L528.64 269.34 L528.84 269.79 L529.05 270.25 L529.25 270.7 L529.46 271.16 L529.66 271.62 L529.86 272.07 L530.07 272.53 L530.27 272.99 L530.47 273.44 L530.68 273.9 L530.88 274.36 L531.08 274.81 L531.28 275.27 L531.49 275.73 L531.69 276.18 L531.89 276.64 L532.09 277.1 L532.3 277.55 L532.5 278.01 L532.7 278.47 L532.9 278.92 L533.11 279.38 L533.31 279.84 L533.51 280.3 L533.71 280.75 L533.91 281.21 L534.11 281.67 L534.31 282.12 L534.52 282.58 L534.72 283.04 L534.92 283.5 L535.12 283.95 L535.32 284.41 L535.52 284.87 L535.72 285.33 L535.92 285.78 L536.12 286.24 L536.32 286.7 L536.52 287.16 L536.72 287.61 L536.92 288.07 L537.12 288.53 L537.32 288.99 L537.52 289.45 L537.72 289.9 L537.92 290.36 L538.12 290.82 L538.32 291.28 L538.52 291.74 L538.72 292.19 L538.92 292.65 L539.12 293.11 L539.32 293.57 L539.52 294.03 L539.72 294.48 L539.92 294.94 L540.11 295.4 L540.31 295.86 L540.51 296.32 L540.71 296.78 L540.91 297.23 L541.11 297.69 L541.31 298.15 L541.5 298.61 L541.7 299.07 L541.9 299.53 L542.1 299.99 L542.3 300.44 L542.49 300.9 L542.69 301.36 L542.89 301.82 L543.09 302.28 L543.29 302.74 L543.48 303.2 L543.68 303.66 L543.88 304.11 L544.08 304.57 L544.27 305.03 L544.47 305.49 L544.67 305.95 L544.86 306.41 L545.06 306.87 L545.26 307.33 L545.46 307.79 L545.65 308.25 L545.85 308.71 L546.05 309.16 L546.24 309.62 L546.44 310.08 L546.64 310.54 L546.83 311 L547.03 311.46 L547.23 311.92 L547.42 312.38 L547.62 312.84 L547.82 313.3 L548.01 313.76 L548.21 314.22 L548.4 314.68 L548.6 315.14 L548.8 315.6 L548.99 316.05 L549.19 316.51 L549.38 316.97 L549.58 317.43 L549.78 317.89 L549.97 318.35 L550.17 318.81 L550.36 319.27 L550.56 319.73 L550.75 320.19 L550.95 320.65 L551.14 321.11 L551.34 321.57 L551.54 322.03 L551.73 322.49 L551.93 322.95 L552.12 323.41 L552.32 323.87 L552.51 324.33 L552.71 324.79 L552.9 325.25 L553.1 325.71 L553.29 326.17 L553.49 326.63 L553.68 327.09 L553.88 327.55 L554.07 328.01 L554.27 328.47 L554.46 328.93 L554.66 329.39 L554.85 329.85 L555.05 330.31 L555.24 330.77 L555.44 331.23 L555.63 331.69 L555.83 332.15 L556.02 332.61 L556.22 333.07 L556.41 333.53 L556.6 333.99 L556.8 334.45 L556.99 334.91 L557.19 335.37 L557.38 335.84 L557.58 336.3 L557.77 336.76 L557.97 337.22 L558.16 337.68 L558.35 338.14 L558.55 338.6 L558.74 339.06 L558.94 339.52 L559.13 339.98 L559.33 340.44 L559.52 340.9 L559.72 341.36 L559.91 341.82 L560.1 342.28 L560.3 342.74 L560.49 343.2 L560.69 343.66 L560.88 344.12 L561.07 344.59 L561.27 345.05 L561.46 345.51 L561.66 345.97 L561.85 346.43 L562.05 346.89 L562.24 347.35 L562.43 347.81 L562.63 348.27 L562.82 348.73 L563.02 349.19 L563.21 349.65 L563.4 350.11 L563.6 350.57 L563.79 351.04 L563.99 351.5 L564.18 351.96 L564.37 352.42 L564.57 352.88 L564.76 353.34 L564.95 353.8 L565.15 354.26 L565.34 354.72 L565.54 355.18 L565.73 355.64 L565.92 356.11 L566.12 356.57 L566.31 357.03 L566.5 357.49 L566.7 357.95 L566.89 358.41 L567.08 358.87 L567.28 359.33 L567.47 359.79 L567.66 360.26 L567.86 360.72 L568.05 361.18 L568.24 361.64 L568.44 362.1 L568.63 362.56 L568.82 363.02 L569.02 363.48 L569.21 363.95 L569.4 364.41 L569.6 364.87 L569.79 365.33 L569.98 365.79 L570.17 366.25 L570.37 366.71 L570.56 367.17 L570.75 367.64 L570.95 368.1 L571.14 368.56 L571.33 369.02 L571.52 369.48 L571.72 369.94 L571.91 370.41 L572.1 370.87 L572.29 371.33 L572.49 371.79 L572.68 372.25 L572.87 372.71 L573.06 373.18 L573.26 373.64 L573.45 374.1 L573.64 374.56 L573.83 375.02 L574.02 375.48 L574.22 375.95 L574.41 376.41 L574.6 376.87 L574.79 377.33 L574.98 377.79 L575.17 378.26 L575.37 378.72 L575.56 379.18 L575.75 379.64 L575.94 380.1 L576.13 380.57 L576.32 381.03 L576.51 381.49 L576.71 381.95 L576.9 382.42 L577.09 382.88 L577.28 383.34 L577.47 383.8 L577.66 384.26 L577.85 384.73 L578.04 385.19 L578.23 385.65 L578.42 386.11 L578.61 386.58 L578.81 387.04 L579 387.5 L579.19 387.96 L579.38 388.43 L579.57 388.89 L579.76 389.35 L579.95 389.81 L580.14 390.28 L580.33 390.74 L580.52 391.2 L580.71 391.67 L580.9 392.13 L581.09 392.59 L581.28 393.05 L581.47 393.52 L581.66 393.98 L581.85 394.44 L582.03 394.91 L582.22 395.37 L582.41 395.83 L582.6 396.29 L582.79 396.76 L582.98 397.22 L583.17 397.68 L583.36 398.15 L583.55 398.61 L583.74 399.07 L583.92 399.54 L584.11 400 L584.3 400.46 L584.49 400.93 L584.68 401.39 L584.87 401.85 L585.05 402.32 L585.24 402.78 L585.43 403.24 L585.62 403.71 L585.81 404.17 L585.99 404.63 L586.18 405.1 L586.37 405.56 L586.56 406.03 L586.74 406.49 L586.93 406.95 L587.12 407.42 L587.31 407.88 L587.49 408.34 L587.68 408.81 L587.87 409.27 L588.05 409.74 L588.24 410.2 L588.43 410.66 L588.61 411.13 L588.8 411.59 L588.99 412.06 L589.17 412.52 L589.36 412.99 L589.55 413.45 L589.73 413.91 L589.92 414.38 L590.1 414.84 L590.29 415.31 L590.47 415.77 L590.66 416.24 L590.85 416.7 L591.03 417.16 L591.22 417.63 L591.4 418.09 L591.59 418.56 L591.77 419.02 L591.96 419.49 L592.14 419.95 L592.32 420.42 L592.51 420.88 L592.69 421.35 L592.88 421.81 L593.06 422.28 L593.25 422.74 L593.43 423.21 L593.61 423.67 L593.8 424.14 L593.98 424.6 L594.17 425.07 L594.35 425.53 L594.53 426 L594.72 426.46 L594.9 426.93 L595.08 427.39 L595.26 427.86 L595.45 428.33 L595.63 428.79 L595.81 429.26 L596 429.72 L596.18 430.19 L596.36 430.65 L596.54 431.12 L596.72 431.58 L596.91 432.05 L597.09 432.52 L597.27 432.98 L597.45 433.45 L597.63 433.91 L597.81 434.38 L598 434.85 L598.18 435.31 L598.36 435.78 L598.54 436.24 L598.72 436.71 L598.9 437.18 L599.08 437.64 L599.26 438.11 L599.44 438.58 L599.62 439.04 L599.8 439.51 L599.98 439.98 L600.16 440.44 L600.34 440.91 L600.52 441.38 L600.7 441.84 L600.88 442.31 L601.06 442.78 L601.24 443.24 L601.42 443.71 L601.59 444.18 L601.77 444.64 L601.95 445.11 L602.13 445.58 L602.31 446.05 L602.49 446.51 L602.66 446.98 L602.84 447.45 L603.02 447.91 L603.2 448.38 L603.38 448.85 L603.55 449.32 L603.73 449.78 L603.91 450.25 L604.08 450.72 L604.26 451.19 L604.44 451.65 L604.61 452.12 L604.79 452.59 L604.97 453.06 L605.14 453.53 L605.32 453.99 L605.49 454.46 L605.67 454.93 L605.85 455.4 L606.02 455.87 L606.2 456.33 L606.37 456.8 L606.55 457.27 L606.72 457.74 L606.9 458.21 L607.07 458.68 L607.24 459.14 L607.42 459.61 L607.59 460.08 L607.77 460.55 L607.94 461.02 L608.11 461.49 L608.29 461.96 L608.46 462.43 L608.63 462.89 L608.81 463.36 L608.98 463.83 L609.15 464.3 L609.33 464.77 L609.5 465.24 L609.67 465.71 L609.84 466.18 L610.02 466.65 L610.19 467.12 L610.36 467.59 L610.53 468.06 L610.7 468.52 L610.87 468.99 L611.04 469.46 L611.22 469.93 L611.39 470.4 L611.56 470.87 L611.73 471.34 L611.9 471.81 L612.07 472.28 L612.24 472.75 L612.41 473.22 L612.58 473.69 L612.75 474.16 L612.92 474.63 L613.08 475.1 L613.25 475.57 L613.42 476.04 L613.59 476.52 L613.76 476.99 L613.93 477.46 L614.1 477.93 L614.26 478.4 L614.43 478.87 L614.6 479.34 L614.77 479.81 L614.94 480.28 L615.1 480.75 L615.27 481.22 L615.44 481.69 L615.6 482.17 L615.77 482.64 L615.94 483.11 L616.1 483.58 L616.27 484.05 L616.43 484.52 L616.6 484.99 L616.77 485.47 L616.93 485.94 L617.1 486.41 L617.26 486.88 L617.43 487.35 L617.59 487.82 L617.75 488.3 L617.92 488.77 L618.08 489.24 L618.25 489.71 L618.41 490.18 L618.57 490.66 L618.74 491.13 L618.9 491.6 L619.06 492.07 L619.23 492.55 L619.39 493.02 L619.55 493.49 L619.71 493.96 L619.88 494.44 L620.04 494.91 L620.2 495.38 L620.36 495.85 L620.52 496.33 L620.68 496.8 L620.84 497.27 L621 497.75 L621.17 498.22 L621.33 498.69 L621.49 499.17 L621.65 499.64 L621.81 500.11 L621.97 500.59 L622.13 501.06 L622.28 501.53 L622.44 502.01 L622.6 502.48 L622.76 502.96 L622.92 503.43 L623.08 503.9 L623.24 504.38 L623.39 504.85 L623.55 505.33 L623.71 505.8 L623.87 506.27 L624.02 506.75 L624.18 507.22 L624.34 507.7 L624.49 508.17 L624.65 508.65 L624.81 509.12 L624.96 509.6 L625.12 510.07 L625.27 510.55 L625.43 511.02 L625.58 511.5 L625.74 511.97 L625.89 512.45 L626.05 512.92 L626.2 513.4 L626.36 513.87 L626.51 514.35 L626.66 514.82 L626.82 515.3 L626.97 515.78 L627.12 516.25 L627.28 516.73 L627.43 517.2 L627.58 517.68 L627.73 518.15 L627.89 518.63 L628.04 519.11 L628.19 519.58 L628.34 520.06 L628.49 520.54 L628.64 521.01 L628.79 521.49 L628.94 521.97 L629.09 522.44 L629.24 522.92 L629.39 523.4 L629.54 523.87 L629.69 524.35 L629.84 524.83 L629.99 525.3 L630.14 525.78 L630.29 526.26 L630.44 526.73 L630.59 527.21 L630.73 527.69 L630.88 528.17 L631.03 528.64 L631.18 529.12 L631.32 529.6 L631.47 530.08 L631.62 530.56 L631.76 531.03 L631.91 531.51 L632.05 531.99 L632.2 532.47 L632.35 532.95 L632.49 533.42 L632.64 533.9 L632.78 534.38 L632.93 534.86 L633.07 535.34 L633.21 535.82 L633.36 536.3 L633.5 536.77 L633.64 537.25 L633.79 537.73 L633.93 538.21 L634.07 538.69 L634.22 539.17 L634.36 539.65 L634.5 540.13 L634.64 540.61 L634.78 541.09 L634.92 541.57 L635.07 542.05 L635.21 542.53 L635.35 543.01 L635.49 543.49 L635.63 543.97 L635.77 544.45 L635.91 544.93 L636.05 545.41 L636.19 545.89 L636.32 546.37 L636.46 546.85 L636.6 547.33 L636.74 547.81 L636.88 548.29 L637.02 548.77 L637.15 549.25 L637.29 549.73 L637.43 550.21 L637.56 550.69 L637.7 551.18 L637.84 551.66 L637.97 552.14 L638.11 552.62 L638.24 553.1 L638.38 553.58 L638.51 554.06 L638.65 554.55 L638.78 555.03 L638.92 555.51 L639.05 555.99 L639.19 556.47 L639.32 556.96 L639.45 557.44 L639.58 557.92 L639.72 558.4 L639.85 558.89 L639.98 559.37 L640.11 559.85 L640.25 560.33 L640.38 560.82 L640.51 561.3 L640.64 561.78 L640.77 562.27 L640.9 562.75 L641.03 563.23 L641.16 563.72 L641.29 564.2 L641.42 564.68 L641.55 565.17 L641.68 565.65 L641.81 566.13 L641.93 566.62 L642.06 567.1 L642.19 567.58 L642.3 568" stroke="#ed1c24" stroke-width="2.8"/>
<path d="M416.7 84.19 L416.97 84.5 L417.3 84.87 L417.63 85.25 L417.95 85.62 L418.27 86 L418.6 86.38 L418.92 86.76 L419.24 87.13 L419.56 87.51 L419.88 87.89 L420.2 88.27 L420.52 88.66 L420.84 89.04 L421.16 89.42 L421.48 89.8 L421.79 90.19 L422.11 90.57 L422.43 90.96 L422.74 91.34 L423.06 91.73 L423.37 92.12 L423.68 92.5 L424 92.89 L424.31 93.28 L424.62 93.67 L424.93 94.06 L425.24 94.45 L425.55 94.84 L425.86 95.23 L426.17 95.62 L426.48 96.02 L426.79 96.41 L427.1 96.8 L427.4 97.2 L427.71 97.59 L428.02 97.99 L428.32 98.38 L428.63 98.78 L428.9 99.13 M440.41 114.63 L440.57 114.86 L440.87 115.26 L441.16 115.67 L441.45 116.07 L441.75 116.48 L442.04 116.89 L442.33 117.29 L442.63 117.7 L442.92 118.1 L443.21 118.51 L443.51 118.92 L443.8 119.32 L444.09 119.73 L444.38 120.13 L444.68 120.54 L444.97 120.95 L445.26 121.35 L445.55 121.76 L445.85 122.16 L446.14 122.57 L446.43 122.97 L446.72 123.38 L447.02 123.79 L447.31 124.19 L447.6 124.6 L447.89 125 L448.19 125.4 L448.48 125.81 L448.77 126.21 L449.06 126.62 L449.36 127.02 L449.65 127.43 L449.94 127.83 L450.23 128.23 L450.53 128.64 L450.82 129.04 L451.11 129.44 L451.4 129.84 L451.7 130.25 L451.71 130.27 M462.79 146.08 L462.79 146.09 L463.07 146.5 L463.34 146.92 L463.62 147.33 L463.89 147.75 L464.16 148.16 L464.43 148.58 L464.71 148.99 L464.98 149.41 L465.25 149.83 L465.52 150.25 L465.79 150.66 L466.06 151.08 L466.32 151.5 L466.59 151.92 L466.86 152.34 L467.13 152.76 L467.39 153.18 L467.66 153.6 L467.93 154.02 L468.19 154.44 L468.46 154.86 L468.72 155.28 L468.98 155.7 L469.25 156.12 L469.51 156.55 L469.77 156.97 L470.04 157.39 L470.3 157.82 L470.56 158.24 L470.82 158.67 L471.08 159.09 L471.34 159.51 L471.6 159.94 L471.86 160.37 L472.12 160.79 L472.38 161.22 L472.64 161.64 L472.89 162.07 L473.09 162.39 M482.78 179.08 L482.92 179.33 L483.16 179.76 L483.41 180.2 L483.65 180.63 L483.9 181.07 L484.14 181.5 L484.38 181.94 L484.62 182.38 L484.87 182.81 L485.11 183.25 L485.35 183.69 L485.59 184.13 L485.83 184.56 L486.07 185 L486.31 185.44 L486.55 185.88 L486.79 186.31 L487.03 186.75 L487.27 187.19 L487.5 187.61" stroke="#ed1c24" stroke-width="2.3"/>
<path d="M330.65 32.2 L331.03 32.29 L331.52 32.41 L332 32.53 L332.01 32.53 M344.6 36.16 L344.92 36.27 L345.4 36.42 L345.87 36.58 L345.93 36.6 M358.17 41.26 L358.48 41.39 L358.94 41.59 L359.4 41.79 L359.45 41.81 M371.25 47.5 L371.53 47.66 L371.97 47.89 L372.41 48.13 L372.48 48.17 M383.71 54.9 L383.91 55.03 L384.32 55.31 L384.74 55.58 L384.88 55.68 M395.4 63.47 L395.45 63.51 L395.83 63.82 L396.21 64.14 L396.48 64.36 M406.19 73.16 L406.42 73.39 L406.77 73.73 L407.12 74.08 L407.18 74.14 M416.14 83.7 L416.25 83.82 L416.57 84.19 L416.9 84.57 L417.06 84.75 M425.42 94.84 L425.47 94.9 L425.78 95.29 L426.09 95.69 L426.29 95.93 M434.23 106.35 L434.28 106.42 L434.58 106.83 L434.88 107.23 L435.06 107.48 M442.77 118.07 L442.84 118.16 L443.13 118.57 L443.43 118.97 L443.59 119.2 M451.26 129.82 L451.32 129.9 L451.62 130.31 L451.91 130.71 L452.09 130.96 M459.67 141.64 L459.94 142.04 L460.22 142.44 L460.46 142.79 M467.64 153.75 L467.84 154.07 L468.11 154.49 L468.37 154.91 L468.39 154.93" stroke="#ed1c24" stroke-width="2.6"/>
<path d="M475.64 170.03 L476.36 171.57 M481.62 182.74 L482.38 184.26 M488.44 195.43 L489.16 196.97 M493.88 208.71 L494.52 210.29 M499.27 221.72 L499.93 223.28 M504.99 235.21 L505.61 236.79 M509.99 248.81 L510.61 250.39 M515.5 261.81 L516.1 263.39 M520.32 275.6 L520.88 277.2 M525.13 289.2 L525.67 290.8 M529.74 303.19 L530.26 304.81 M534.15 316.79 L534.65 318.41 M538.35 330.59 L538.85 332.21 M542.74 344.59 L543.26 346.21 M547.34 358.19 L547.86 359.81 M551.76 372.19 L552.24 373.81 M555.75 386.19 L556.25 387.81 M560.15 399.79 L560.65 401.41 M564.36 413.58 L564.84 415.22 M568.27 427.18 L568.73 428.82 M572.17 441.18 L572.63 442.82 M576.18 455.18 L576.62 456.82 M579.79 469.18 L580.21 470.82 M583.21 483.17 L583.59 484.83 M586.24 497.57 L586.56 499.23 M588.85 511.56 L589.15 513.24 M591.47 525.76 L591.73 527.44 M593.47 540.16 L593.73 541.84 M595.86 554.16 L596.14 555.84" stroke="#ed1c24" stroke-width="3"/>
<path d="M497.7 199.7 L509 213.5 M523 225.6 L523.31 226.58 L523.68 227.52 L524.11 228.42 L524.58 229.27 L525.13 230.09 L525.77 230.87 L526.47 231.62 L527.2 232.31 L527.95 232.94 L528.75 233.54 L529.58 234.11 L530.44 234.65 L531.28 235.17 L532.14 235.69 L533 236.18 L533.88 236.67 L534.76 237.14 L535.66 237.59 L536.56 238.02 L537.4 238.4 M553.6 250 L569 257.6 M586 266 L602 273 M618.8 279.3 L635.6 285.4 M651.6 292 L669 297.6 M686 303.6 L703 308.6 M720 314.4 L738 319.4" stroke="#ed1c24" stroke-width="2.55"/>
</g>
<g stroke="#231f20" fill="none" stroke-width="2.3" stroke-linejoin="round">
<rect x="117.5" y="24.5" width="628.4" height="544.4" stroke-linecap="butt"/>
</g>
<path d="M245.47 568.9 v-3.8 M245.47 24.5 v3.8 M320.32 568.9 v-3.8 M320.32 24.5 v3.8 M373.44 568.9 v-3.8 M373.44 24.5 v3.8 M414.63 568.9 v-3.8 M414.63 24.5 v3.8 M448.29 568.9 v-3.8 M448.29 24.5 v3.8 M476.75 568.9 v-3.8 M476.75 24.5 v3.8 M501.4 568.9 v-3.8 M501.4 24.5 v3.8 M523.15 568.9 v-3.8 M523.15 24.5 v3.8 M542.6 568.9 v-7.1 M542.6 24.5 v7.1 M670.57 568.9 v-3.8 M670.57 24.5 v3.8 M117.5 29.38 h3.8 M745.9 29.38 h-3.8 M117.5 34.94 h3.8 M745.9 34.94 h-3.8 M117.5 41.25 h3.8 M745.9 41.25 h-3.8 M117.5 48.54 h3.8 M745.9 48.54 h-3.8 M117.5 57.15 h3.8 M745.9 57.15 h-3.8 M117.5 67.7 h3.8 M745.9 67.7 h-3.8 M117.5 81.29 h3.8 M745.9 81.29 h-3.8 M117.5 100.45 h3.8 M745.9 100.45 h-3.8 M117.5 133.2 h7.1 M745.9 133.2 h-7.1 M117.5 138.18 h3.8 M745.9 138.18 h-3.8 M117.5 143.74 h3.8 M745.9 143.74 h-3.8 M117.5 150.05 h3.8 M745.9 150.05 h-3.8 M117.5 157.34 h3.8 M745.9 157.34 h-3.8 M117.5 165.95 h3.8 M745.9 165.95 h-3.8 M117.5 176.5 h3.8 M745.9 176.5 h-3.8 M117.5 190.09 h3.8 M745.9 190.09 h-3.8 M117.5 209.25 h3.8 M745.9 209.25 h-3.8 M117.5 242 h7.1 M745.9 242 h-7.1 M117.5 246.98 h3.8 M745.9 246.98 h-3.8 M117.5 252.54 h3.8 M745.9 252.54 h-3.8 M117.5 258.85 h3.8 M745.9 258.85 h-3.8 M117.5 266.14 h3.8 M745.9 266.14 h-3.8 M117.5 274.75 h3.8 M745.9 274.75 h-3.8 M117.5 285.3 h3.8 M745.9 285.3 h-3.8 M117.5 298.89 h3.8 M745.9 298.89 h-3.8 M117.5 318.05 h3.8 M745.9 318.05 h-3.8 M117.5 350.8 h7.1 M745.9 350.8 h-7.1 M117.5 355.78 h3.8 M745.9 355.78 h-3.8 M117.5 361.34 h3.8 M745.9 361.34 h-3.8 M117.5 367.65 h3.8 M745.9 367.65 h-3.8 M117.5 374.94 h3.8 M745.9 374.94 h-3.8 M117.5 383.55 h3.8 M745.9 383.55 h-3.8 M117.5 394.1 h3.8 M745.9 394.1 h-3.8 M117.5 407.69 h3.8 M745.9 407.69 h-3.8 M117.5 426.85 h3.8 M745.9 426.85 h-3.8 M117.5 459.6 h7.1 M745.9 459.6 h-7.1 M117.5 464.58 h3.8 M745.9 464.58 h-3.8 M117.5 470.14 h3.8 M745.9 470.14 h-3.8 M117.5 476.45 h3.8 M745.9 476.45 h-3.8 M117.5 483.74 h3.8 M745.9 483.74 h-3.8 M117.5 492.35 h3.8 M745.9 492.35 h-3.8 M117.5 502.9 h3.8 M745.9 502.9 h-3.8 M117.5 516.49 h3.8 M745.9 516.49 h-3.8 M117.5 535.65 h3.8 M745.9 535.65 h-3.8" stroke="#231f20" stroke-width="2.1" fill="none"/>
<g fill="#ed1c24" stroke="none">
<circle cx="116.9" cy="24.5" r="2.9"/>
<circle cx="135.38" cy="24.5" r="2.9"/>
<circle cx="153.86" cy="24.5" r="2.9"/>
<circle cx="172.34" cy="24.5" r="2.9"/>
<circle cx="190.82" cy="24.5" r="2.9"/>
<circle cx="209.3" cy="24.5" r="2.9"/>
<circle cx="227.78" cy="24.5" r="2.9"/>
<circle cx="246.26" cy="24.5" r="2.9"/>
<circle cx="264.74" cy="24.5" r="2.9"/>
<circle cx="283.22" cy="24.8" r="2.9"/>
<circle cx="301.7" cy="25.6" r="2.9"/>
<circle cx="320.18" cy="28.6" r="2.9"/>
<circle cx="338.66" cy="33.4" r="2.9"/>
<circle cx="357.14" cy="40" r="2.9"/>
<circle cx="375.62" cy="48" r="2.9"/>
<circle cx="394.1" cy="59.4" r="2.9"/>
<circle cx="412.58" cy="77.3" r="2.9"/>
<circle cx="431.06" cy="99.6" r="2.9"/>
<circle cx="449.54" cy="126.4" r="2.9"/>
<circle cx="468.02" cy="155" r="2.9"/>
<circle cx="486.5" cy="182.3" r="2.9"/>
<circle cx="504.98" cy="205.2" r="2.9"/>
<circle cx="523.46" cy="225.6" r="2.9"/>
<circle cx="541.94" cy="244" r="2.9"/>
<circle cx="560.42" cy="272" r="2.9"/>
<circle cx="578.9" cy="316" r="2.9"/>
<circle cx="597.38" cy="388.6" r="2.9"/>
<circle cx="615.86" cy="447.6" r="2.9"/>
<circle cx="634.34" cy="516.6" r="2.9"/>
</g>
<g stroke="#231f20" stroke-width="2.1" fill="#fff" stroke-linejoin="round">
<rect x="552.5" y="46" width="172.3" height="89.3"/>
<rect x="149.4" y="366.6" width="192.1" height="166.9"/>
</g>
<g fill="none" stroke-width="2.1">
<path d="M571.5 70 H667.2" stroke="#231f20"/>
<path d="M571.5 110 H667.2" stroke="#ed1c24"/>
<path d="M168.5 509.4 H264.2" stroke="#231f20"/>
<path d="M168.4 469.4 H265.5" stroke="#231f20" stroke-dasharray="19.3 19.45"/>
<path d="M168.3 432.6 H258" stroke="#231f20" stroke-width="3" stroke-dasharray="1.7 12.85"/>
</g>
<circle cx="216.4" cy="394.1" r="3.2" fill="#231f20"/>
<g font-family="'Liberation Sans', Arial, Helvetica, sans-serif" fill="#231f20">
<text x="678.4" y="82.3" font-size="30.6" text-anchor="start" textLength="30.6" lengthAdjust="spacingAndGlyphs">L2</text>
<text x="678.4" y="122.6" font-size="30.6" text-anchor="start" textLength="30.8" lengthAdjust="spacingAndGlyphs">L4</text>
<text x="275" y="403.8" font-size="30.6" text-anchor="start" textLength="50" lengthAdjust="spacingAndGlyphs">Sim</text>
<text x="275.8" y="442.5" font-size="30.6" text-anchor="start" textLength="55.6" lengthAdjust="spacingAndGlyphs">ADE</text>
<text x="275.2" y="478.7" font-size="30.6" text-anchor="start" textLength="52.4" lengthAdjust="spacingAndGlyphs">FDE</text>
<text x="275" y="519" font-size="30.6" text-anchor="start" textLength="48.6" lengthAdjust="spacingAndGlyphs">TPL</text>
<text x="49.3" y="35.9" font-size="30" text-anchor="start" textLength="32.4" lengthAdjust="spacingAndGlyphs">10</text>
<text x="84.2" y="16.6" font-size="18.2" text-anchor="start" textLength="10.4" lengthAdjust="spacingAndGlyphs">0</text>
<text x="49.3" y="144.7" font-size="30" text-anchor="start" textLength="32.4" lengthAdjust="spacingAndGlyphs">10</text>
<text x="84.6" y="125.4" font-size="18.2" text-anchor="start" textLength="21.6" lengthAdjust="spacingAndGlyphs">−1</text>
<text x="49.3" y="253.5" font-size="30" text-anchor="start" textLength="32.4" lengthAdjust="spacingAndGlyphs">10</text>
<text x="84.6" y="234.2" font-size="18.2" text-anchor="start" textLength="23.5" lengthAdjust="spacingAndGlyphs">−2</text>
<text x="49.3" y="362.3" font-size="30" text-anchor="start" textLength="32.4" lengthAdjust="spacingAndGlyphs">10</text>
<text x="84.6" y="343" font-size="18.2" text-anchor="start" textLength="23.5" lengthAdjust="spacingAndGlyphs">−3</text>
<text x="49.3" y="471.1" font-size="30" text-anchor="start" textLength="32.4" lengthAdjust="spacingAndGlyphs">10</text>
<text x="84.6" y="451.8" font-size="18.2" text-anchor="start" textLength="23.5" lengthAdjust="spacingAndGlyphs">−4</text>
<text x="95.3" y="617" font-size="30" text-anchor="start" textLength="32.4" lengthAdjust="spacingAndGlyphs">10</text>
<text x="130.1" y="597.3" font-size="18.2" text-anchor="start" textLength="10" lengthAdjust="spacingAndGlyphs">5</text>
<text x="520.4" y="617" font-size="30" text-anchor="start" textLength="32.4" lengthAdjust="spacingAndGlyphs">10</text>
<text x="555.2" y="597.3" font-size="18.2" text-anchor="start" textLength="10.8" lengthAdjust="spacingAndGlyphs">6</text>
<text x="378.2" y="655.1" font-size="30.3" text-anchor="start" textLength="96.8" lengthAdjust="spacingAndGlyphs">Age (d)</text>
<text transform="translate(25.8 343.7) rotate(-90)" font-size="31.2" textLength="92.5" lengthAdjust="spacingAndGlyphs">1−CDF</text>
</g>
</svg>
</body>
</html>
